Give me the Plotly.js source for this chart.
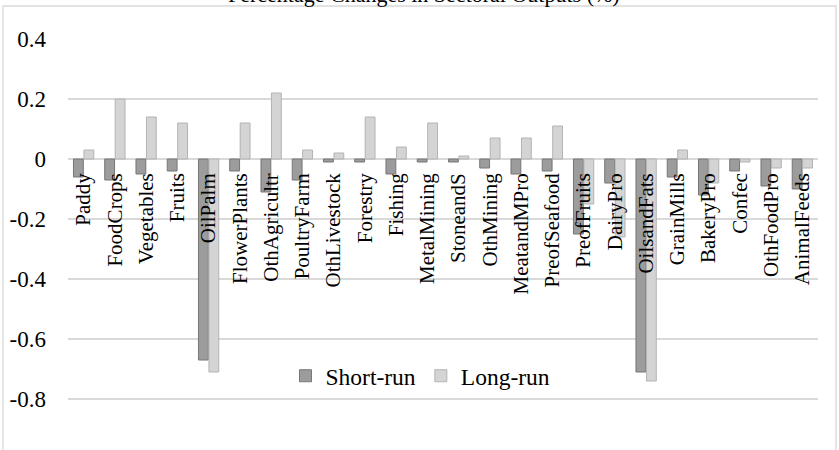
<!DOCTYPE html>
<html>
<head>
<meta charset="utf-8">
<script src="https://cdn.plot.ly/plotly-3.0.1.min.js"></script>
<style>html,body{margin:0;padding:0;background:#fff;}#chart{width:839px;height:450px;}</style>
</head>
<body>
<div id="chart"></div>
<script>
const categories = ["Paddy","FoodCrops","Vegetables","Fruits","OilPalm","FlowerPlants","OthAgricultr","PoultryFarm","OthLivestock","Forestry","Fishing","MetalMining","StoneandS","OthMining","MeatandMPro","PreofSeafood","PreofFruits","DairyPro","OilsandFats","GrainMills","BakeryPro","Confec","OthFoodPro","AnimalFeeds"];
const shortRun = [-0.06,-0.07,-0.05,-0.04,-0.67,-0.04,-0.11,-0.07,-0.01,-0.01,-0.05,-0.01,-0.01,-0.03,-0.05,-0.04,-0.25,-0.08,-0.71,-0.06,-0.12,-0.04,-0.09,-0.10];
const longRun  = [0.03,0.20,0.14,0.12,-0.71,0.12,0.22,0.03,0.02,0.14,0.04,0.12,0.01,0.07,0.07,0.11,-0.15,-0.26,-0.74,0.03,-0.08,-0.01,-0.03,-0.03];
const yTickVals = [-0.8,-0.6,-0.4,-0.2,0,0.2,0.4];
const yTickText = ["-0.8","-0.6","-0.4","-0.2","0","0.2","0.4"];
const titleText = "Percentage Changes in Sectoral Outputs (%)";

const FONT = "Liberation Serif, Times New Roman, serif";
const yMin = -0.9, yMax = 0.4;

const traces = [
  {type:'bar', name:'Short-run', x:categories, y:shortRun,
   marker:{color:'#9c9c9c', line:{color:'#767676', width:1}}},
  {type:'bar', name:'Long-run', x:categories, y:longRun,
   marker:{color:'#d4d4d4', line:{color:'#b3b3b3', width:1}}}
];

const layout = {
  width:839, height:450,
  margin:{l:68, r:21, t:39, b:21},
  paper_bgcolor:'#fff', plot_bgcolor:'rgba(0,0,0,0)',
  font:{family:FONT, size:21, color:'#000'},
  barmode:'group', bargap:0.33, bargroupgap:0.06,
  showlegend:true,
  legend:{orientation:'h', x:0.47, xanchor:'center', y:0.136, yanchor:'middle',
          bgcolor:'rgba(0,0,0,0)', font:{family:FONT, size:23.5, color:'#000'},
          itemwidth:30, traceorder:'normal', tracegroupgap:0},
  xaxis:{type:'category', anchor:'free', position:(0 - yMin)/(yMax - yMin),
         tickangle:-90, showgrid:false, showline:false, zeroline:false,
         ticks:'', ticklabelstandoff:9,
         tickfont:{family:FONT, size:21, color:'#000'}, automargin:false},
  yaxis:{range:[yMin, yMax], tickvals:yTickVals, ticktext:yTickText,
         showgrid:true, gridcolor:'#d9d9d9', gridwidth:1.3,
         zeroline:true, zerolinecolor:'#d9d9d9', zerolinewidth:1.3,
         showline:false, ticks:'', ticklabelstandoff:21,
         tickfont:{family:FONT, size:23, color:'#000'}, automargin:false},
  shapes:[{type:'rect', xref:'paper', yref:'paper', x0:-0.0867, x1:1.024, y0:-0.2, y1:1.0846,
           line:{color:'#d9d9d9', width:1.3}, fillcolor:'rgba(0,0,0,0)', layer:'below'}],
  annotations:[{text:titleText, xref:'paper', yref:'paper', x:0.475, y:1.115,
                xanchor:'center', yanchor:'middle', showarrow:false,
                font:{family:FONT, size:22, color:'#000'}}]
};

Plotly.newPlot('chart', traces, layout, {displayModeBar:false, staticPlot:true});
</script>
</body>
</html>
